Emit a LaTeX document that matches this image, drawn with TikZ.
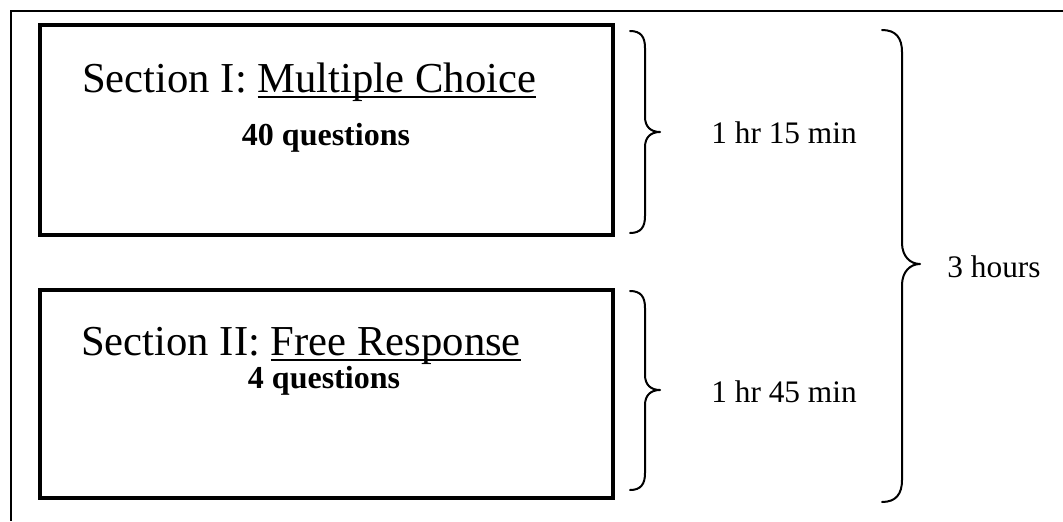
\documentclass[tikz,border=0pt]{standalone}
\usepackage{fontspec}
\setmainfont{Liberation Serif}
\newsavebox\ulbox
\newcommand\myul[1]{\sbox\ulbox{#1}\rlap{\rule[-4.5pt]{\wd\ulbox}{1.5pt}}\usebox\ulbox}
\tikzset{
  frame/.style={line width=1.5pt},
  secbox/.style={line width=3pt},
  bracestyle/.style={line width=1.5pt, line cap=round, line join=round},
  title/.style={inner sep=0pt, anchor=base west, font=\fontsize{32}{38}\selectfont},
  sub/.style={inner sep=0pt, anchor=base, font=\fontsize{24}{29}\selectfont\bfseries},
  timelbl/.style={inner sep=0pt, anchor=base, font=\fontsize{23.5}{28}\selectfont}
}
\begin{document}
\begin{tikzpicture}[x=0.75pt,y=-0.75pt]
\useasboundingbox (0,0) rectangle (1063,521);
% outer frame (top and left only)
\draw[frame] (1063,11) -- (11,11) -- (11,521);
% section boxes
\draw[secbox] (40,24.5) rectangle (612.5,235);
\draw[secbox] (40,290) rectangle (612.5,498);
% texts
\node[title] (t1) at (82,92) {Section I: \myul{Multiple Choice}};
\node[sub] (s1) at (326,145) {40 questions};
\node[title] (t2) at (81,355) {Section II: \myul{Free Response}};
\node[sub] (s2) at (324,388) {4 questions};
\node[timelbl] (l1) at (784,143) {1 hr 15 min};
\node[timelbl] (l2) at (784,402) {1 hr 45 min};
\node[timelbl] (l3) at (994,277) {3 hours};
% small brace 1
\draw[bracestyle] (630,31) .. controls (641,31) and (645,37) .. (645,48) -- (645,117)
  .. controls (645,127) and (651,132) .. (660,132)
  .. controls (651,132) and (645,137) .. (645,147) -- (645,216)
  .. controls (645,227) and (641,233) .. (630,233);
% small brace 2
\draw[bracestyle] (630,291) .. controls (641,291) and (645,297) .. (645,308) -- (645,375)
  .. controls (645,385) and (651,390) .. (660,390)
  .. controls (651,390) and (645,395) .. (645,405) -- (645,473)
  .. controls (645,484) and (641,490) .. (630,490);
% big brace
\draw[bracestyle] (882,30) .. controls (896,30) and (902,38) .. (902,52) -- (902,243)
  .. controls (902,256) and (910,264) .. (920,264)
  .. controls (910,264) and (902,272) .. (902,285) -- (902,480)
  .. controls (902,494) and (896,502) .. (882,502);
\end{tikzpicture}
\end{document}
